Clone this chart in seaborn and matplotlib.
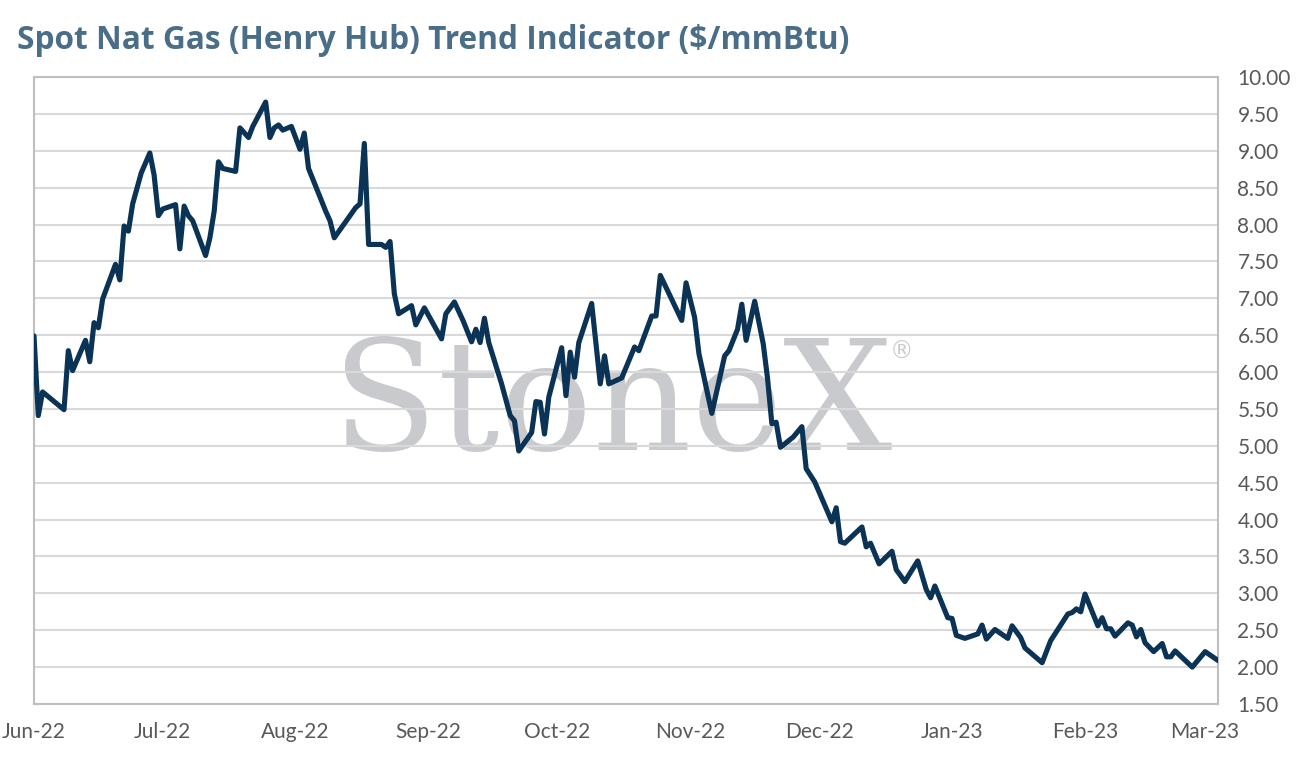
import matplotlib
matplotlib.use("Agg")
import matplotlib.pyplot as plt
import matplotlib.dates as mdates
from matplotlib.ticker import MultipleLocator, FormatStrFormatter
import seaborn as sns
import pandas as pd
import numpy as np

# ---- data ----
START_DATE = "2022-06-01"
# days since START_DATE for each observed vertex of the line
day_offsets = [
    0, 1, 2, 7, 8, 9, 12, 13, 14, 15, 16, 19, 20, 21, 22, 23, 25, 27, 28, 29,
    30, 33, 34, 35, 36, 37, 40, 41, 42, 43, 44, 47, 48, 50, 51, 54, 55, 56, 57, 58,
    60, 62, 63, 64, 68, 69, 70, 75, 76, 77, 78, 81, 82, 83, 84, 85, 88, 89, 91, 95,
    96, 98, 100, 102, 103, 104, 105, 106, 109, 111, 112, 113, 116, 117, 118, 119, 120, 123, 124, 125,
    126, 127, 130, 132, 133, 134, 137, 140, 141, 144, 145, 146, 151, 152, 154, 155, 158, 161, 162, 164,
    165, 166, 168, 170, 171, 172, 173, 174, 177, 179, 180, 182, 186, 187, 188, 189, 193, 194, 195, 197,
    200, 201, 203, 206, 208, 209, 210, 213, 214, 215, 217, 220, 221, 222, 224, 227, 228, 230, 231, 235,
    237, 241, 242, 243, 244, 245, 248, 249, 250, 251, 252, 255, 256, 257, 258, 259, 261, 263, 264, 265,
    266, 270, 273, 276,
]
price = [
    6.49, 5.41, 5.73, 5.49, 6.29, 6.02, 6.43, 6.14, 6.67, 6.60, 6.99, 7.46, 7.25, 7.98, 7.91, 8.28, 8.70, 8.97, 8.67, 8.12,
    8.21, 8.27, 7.67, 8.25, 8.12, 8.05, 7.58, 7.82, 8.18, 8.85, 8.76, 8.72, 9.31, 9.18, 9.33, 9.66, 9.18, 9.31, 9.35, 9.28,
    9.33, 9.02, 9.24, 8.76, 8.18, 8.05, 7.82, 8.23, 8.28, 9.10, 7.73, 7.73, 7.69, 7.77, 7.06, 6.79, 6.90, 6.64, 6.87, 6.45,
    6.79, 6.95, 6.70, 6.41, 6.58, 6.40, 6.73, 6.40, 5.84, 5.41, 5.34, 4.93, 5.18, 5.60, 5.59, 5.16, 5.66, 6.33, 5.68, 6.27,
    5.93, 6.40, 6.93, 5.84, 6.22, 5.84, 5.92, 6.34, 6.29, 6.76, 6.76, 7.31, 6.70, 7.21, 6.74, 6.25, 5.44, 6.22, 6.29, 6.58,
    6.92, 6.43, 6.96, 6.38, 5.91, 5.30, 5.32, 4.98, 5.12, 5.26, 4.69, 4.51, 3.97, 4.16, 3.70, 3.68, 3.90, 3.63, 3.68, 3.40,
    3.57, 3.32, 3.16, 3.44, 3.05, 2.94, 3.10, 2.67, 2.66, 2.43, 2.39, 2.45, 2.57, 2.38, 2.51, 2.39, 2.56, 2.40, 2.26, 2.06,
    2.36, 2.72, 2.74, 2.79, 2.75, 2.99, 2.56, 2.67, 2.52, 2.52, 2.42, 2.60, 2.57, 2.41, 2.51, 2.33, 2.21, 2.32, 2.14, 2.14,
    2.22, 2.00, 2.21, 2.09,
]
TITLE = "Spot Nat Gas (Henry Hub) Trend Indicator ($/mmBtu)"
WATERMARK = "StoneX"

df = pd.DataFrame({
    "date": pd.Timestamp(START_DATE) + pd.to_timedelta(day_offsets, unit="D"),
    "price": price,
})

# ---- style ----
sns.set_style("white")
plt.rcParams["font.family"] = ["Lato", "DejaVu Sans"]

LINE_COLOR = "#0b3356"
GRID_COLOR = "#d9d9d9"
FRAME_COLOR = "#bfbfbf"
TICK_COLOR = "#595959"
TITLE_COLOR = "#4b6e88"
MARK_COLOR = "#c9cacd"

fig = plt.figure(figsize=(12.96, 7.66), dpi=100)
ax = fig.add_axes([34 / 1296, 1 - 704 / 766, (1218 - 34) / 1296, (704 - 77) / 766])

sns.lineplot(data=df, x="date", y="price", ax=ax, color=LINE_COLOR,
             linewidth=3.7, zorder=3)

ax.set_xlim(df["date"].iloc[0], df["date"].iloc[-1])
ax.set_ylim(1.5, 10.0)
ax.yaxis.set_major_locator(MultipleLocator(0.5))
ax.yaxis.set_major_formatter(FormatStrFormatter("%.2f"))
ax.xaxis.set_major_locator(mdates.MonthLocator())
ax.xaxis.set_major_formatter(mdates.DateFormatter("%b-%y"))

ax.yaxis.tick_right()
ax.tick_params(axis="both", length=0, labelsize=15, labelcolor=TICK_COLOR)
ax.tick_params(axis="y", pad=14)
ax.tick_params(axis="x", pad=13)
ax.set_xlabel("")
ax.set_ylabel("")

ax.set_axisbelow(True)
ax.grid(axis="y", color=GRID_COLOR, linewidth=1.5, zorder=1)
ax.grid(axis="x", visible=False)
for sp in ax.spines.values():
    sp.set_visible(True)
    sp.set_color(FRAME_COLOR)
    sp.set_linewidth(1.5)

# watermark
ax.text(0.488, 0.405, WATERMARK, transform=ax.transAxes, ha="center", va="baseline",
        fontsize=111, color=MARK_COLOR, family="DejaVu Serif", zorder=0.2)
ax.text(0.733, 0.561, "\u00ae", transform=ax.transAxes, ha="center", va="center",
        fontsize=17, color=MARK_COLOR, family="DejaVu Sans", zorder=0.2)

fig.text(17 / 1296, 1 - 49 / 766, TITLE, ha="left", va="baseline", fontsize=22.8,
         fontweight="bold", color=TITLE_COLOR, family=["Open Sans", "DejaVu Sans"])

fig.savefig("out.png", dpi=100, facecolor="white")
